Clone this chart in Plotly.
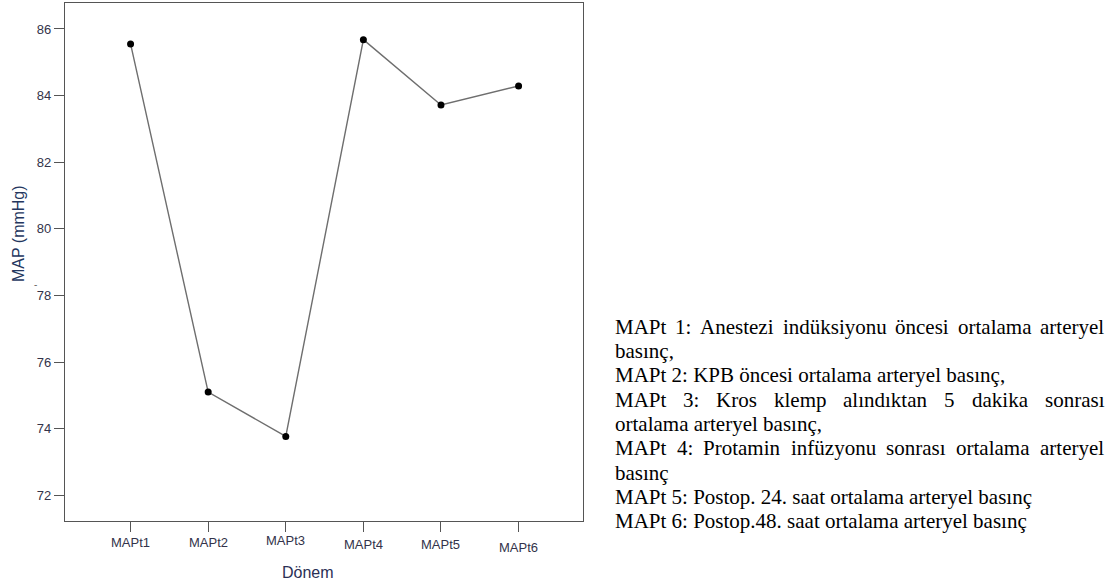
import plotly.graph_objects as go

# ---------------- data ----------------
categories = ["MAPt1", "MAPt2", "MAPt3", "MAPt4", "MAPt5", "MAPt6"]
map_values = [85.55, 75.10, 73.77, 85.68, 83.72, 84.29]
y_tick_values = [72, 74, 76, 78, 80, 82, 84, 86]
y_title = "MAP (mmHg)"
x_title = "Dönem"
note_lines = [
    "MAPt 1: Anestezi indüksiyonu öncesi ortalama arteryel",
    "basınç,",
    "MAPt 2: KPB öncesi ortalama arteryel basınç,",
    "MAPt 3: Kros klemp alındıktan 5 dakika sonrası",
    "ortalama arteryel basınç,",
    "MAPt 4: Protamin infüzyonu sonrası ortalama arteryel",
    "basınç",
    "MAPt 5: Postop. 24. saat ortalama arteryel basınç",
    "MAPt 6: Postop.48. saat ortalama arteryel basınç",
]
note_justified = [True, False, False, True, False, True, False, False, False]

# ---------------- layout helpers ----------------
W, H = 1108, 586
L, R, T, B = 65, 525, 3, 65
PW, PH = W - L - R, H - T - B


def px(x):
    return (x - L) / PW


def py(y):
    return (H - B - y) / PH


# Times / Liberation Serif advance widths (per 1000 em)
TW = {' ': 250, ',': 250, '.': 250, ':': 278,
      'A': 722, 'B': 667, 'K': 722, 'M': 889, 'P': 556, 'S': 556,
      'a': 444, 'b': 500, 'c': 444, 'd': 500, 'e': 444, 'f': 333, 'i': 278,
      'k': 500, 'l': 278, 'm': 778, 'n': 500, 'o': 500, 'p': 500, 'r': 333,
      's': 389, 't': 278, 'u': 500, 'y': 500, 'z': 444, 'ö': 500, 'ü': 500,
      'ç': 444, 'ı': 278}


def tw(s, fs):
    return sum(TW.get(c, 500) for c in s) * fs / 1000.0


fig = go.Figure()
fig.add_trace(go.Scatter(
    x=categories, y=map_values, mode="lines+markers",
    line=dict(color="#6e6e6e", width=1.4),
    marker=dict(color="#000000", size=7),
    showlegend=False, hoverinfo="x+y",
))

annotations = []
label_font = dict(family="Liberation Sans, Arial, sans-serif", size=13, color="#33334a")
label_y = [542.7, 542.7, 540.0, 544.3, 544.0, 547.3]
for c, yy in zip(categories, label_y):
    annotations.append(dict(x=c, xref="x", y=py(yy), yref="paper", text=c,
                            showarrow=False, xanchor="center", yanchor="middle",
                            font=label_font))

title_font = dict(family="Liberation Sans, Arial, sans-serif", size=16, color="#2a2f55")
annotations.append(dict(x=px(308), y=py(572), xref="paper", yref="paper", text=x_title,
                        showarrow=False, xanchor="center", yanchor="middle", font=title_font))
annotations.append(dict(x=px(18), y=py(234), xref="paper", yref="paper", text=y_title,
                        textangle=-90, showarrow=False, xanchor="center", yanchor="middle",
                        font=dict(family="Liberation Sans, Arial, sans-serif", size=16,
                                  color="#24365e")))
annotations.append(dict(x=px(35), y=py(284), xref="paper", yref="paper", text="-",
                        showarrow=False, xanchor="center", yanchor="middle",
                        font=dict(family="Liberation Sans, Arial, sans-serif", size=10,
                                  color="#666666")))

# note text block (justified lines placed word by word)
FS = 21
X0, X1 = 614, 1103
line_y0, line_dy = 326.7, 24.3
note_font = dict(family="Liberation Serif, Times New Roman, serif", size=FS, color="#000000")
for i, (line, just) in enumerate(zip(note_lines, note_justified)):
    yy = py(line_y0 + i * line_dy)
    if just:
        words = line.split(" ")
        widths = [tw(w, FS) for w in words]
        gap = (X1 - X0 - sum(widths)) / (len(words) - 1)
        xcur = X0
        for w, wd in zip(words, widths):
            annotations.append(dict(x=px(xcur), y=yy, xref="paper", yref="paper", text=w,
                                    showarrow=False, xanchor="left", yanchor="middle",
                                    borderpad=0, font=note_font))
            xcur += wd + gap
    else:
        annotations.append(dict(x=px(X0), y=yy, xref="paper", yref="paper", text=line,
                                showarrow=False, xanchor="left", yanchor="middle",
                                borderpad=0, font=note_font))

fig.update_layout(
    width=W, height=H,
    margin=dict(l=L, r=R, t=T, b=B, pad=0),
    paper_bgcolor="white", plot_bgcolor="white",
    annotations=annotations,
    xaxis=dict(
        type="category", range=[-0.845, 5.83], showgrid=False, zeroline=False,
        showline=True, linecolor="#555555", linewidth=1.3, mirror=True,
        ticks="outside", ticklen=10, tickcolor="#555555", tickwidth=1.2,
        showticklabels=False, fixedrange=True,
    ),
    yaxis=dict(
        range=[71.23, 86.78], tickvals=y_tick_values, showgrid=False, zeroline=False,
        showline=True, linecolor="#555555", linewidth=1.3, mirror=True,
        ticks="outside", ticklen=10, tickcolor="#555555", tickwidth=1.2,
        tickfont=label_font, fixedrange=True,
    ),
)

fig.write_html("out.html")
